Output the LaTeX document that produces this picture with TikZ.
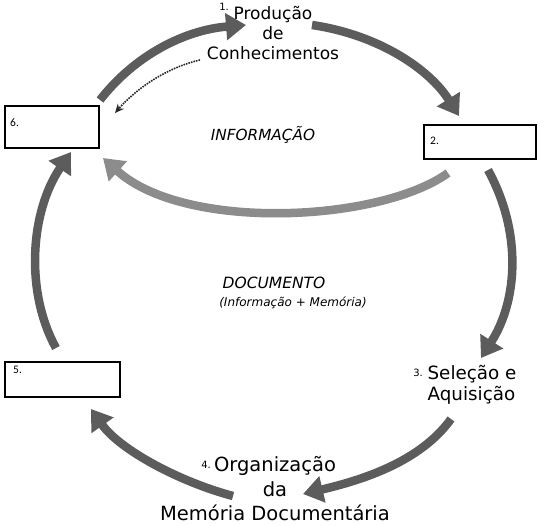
\documentclass[tikz,border=0pt]{standalone}
\usepackage{fontspec}
\setmainfont{DejaVu Sans}
\newfontfamily\boxfont{Carlito}
\usetikzlibrary{arrows.meta}
\definecolor{arrdark}{RGB}{92,92,92}
\definecolor{arrlight}{RGB}{140,140,140}
\tikzset{
  x=1pt, y=-1pt,
  numbox/.style={draw=black, line width=2.6pt, inner sep=0pt},
  boxnum/.style={font=\boxfont\fontsize{11.5}{12}\selectfont, inner sep=0pt, anchor=west},
  bigarrow/.style={line width=8.5pt, draw=arrdark, -{Triangle[width=26pt,length=20pt]}},
  lightarrow/.style={bigarrow, draw=arrlight},
  stage/.style={align=center, inner sep=0pt},
  smallnum/.style={font=\fontsize{10}{11}\selectfont, inner sep=0pt},
  midlabel/.style={align=center, inner sep=0pt, font=\itshape},
}
\begin{document}
\begin{tikzpicture}
\useasboundingbox (0,0) rectangle (545,525);
% boxes
\node[numbox, minimum width=94pt, minimum height=42pt] (b6) at (52,127) {};
\node[numbox, minimum width=112pt, minimum height=34pt] (b2) at (480,142) {};
\node[numbox, minimum width=115pt, minimum height=35pt] (b5) at (62.5,379.5) {};
\node[boxnum] (n6) at (10,123) {6.};
\node[boxnum] (n2) at (430,141) {2.};
\node[boxnum] (n5) at (13,370) {5.};
% stage texts
\node[stage, font=\fontsize{17}{20}\selectfont] (s1) at (273,33) {Produção\\de\\Conhecimentos};
\node[smallnum, anchor=east] (s1n) at (229,7) {1.};
\node[stage, font=\fontsize{18.3}{21}\selectfont, align=left] (s3) at (472,385) {Seleção e\\Aquisição};
\node[smallnum, anchor=east] (s3n) at (423,373) {3.};
\node[stage, font=\fontsize{19.5}{24.5}\selectfont] (s4) at (275,489) {Organização\\da\\Memória Documentária};
\node[smallnum, anchor=east] (s4n) at (211,465) {4.};
\node[midlabel, font=\itshape\fontsize{15.3}{18}\selectfont] (info) at (263,135) {INFORMAÇÃO};
\node[midlabel, font=\itshape\fontsize{15.5}{18}\selectfont] (doc) at (274,283) {DOCUMENTO};
\node[midlabel, font=\itshape\fontsize{12}{14}\selectfont] (docsub) at (293,303) {(Informação + Memória)};
% arrow end points
\coordinate (a1s) at (100,100); \coordinate (a1e) at (246,25);
\coordinate (a2s) at (312,25);  \coordinate (a2e) at (459,116);
\coordinate (dts) at (200,60);  \coordinate (dte) at (115,113);
\coordinate (a4s) at (448,173); \coordinate (a4e) at (103,158);
\coordinate (a5s) at (488,170); \coordinate (a5e) at (481,358);
\coordinate (a6s) at (451,419); \coordinate (a6e) at (303,494);
\coordinate (a7s) at (233,496); \coordinate (a7e) at (91,409);
\coordinate (a8s) at (56,348);  \coordinate (a8e) at (71,152);
% arrows
\draw[bigarrow] (a1s) .. controls (135,55) and (185,30) .. (a1e);
\draw[bigarrow] (a2s) .. controls (380,35) and (430,70) .. (a2e);
\draw[black!85, line width=1.6pt, densely dotted, -{Stealth[length=9pt,width=8pt]}] (dts) .. controls (165,68) and (135,90) .. (dte);
\draw[lightarrow] (a4s) .. controls (380,222) and (185,232) .. (a4e);
\draw[bigarrow] (a5s) .. controls (522,232) and (518,300) .. (a5e);
\draw[bigarrow] (a6s) .. controls (420,462) and (362,480) .. (a6e);
\draw[bigarrow] (a7s) .. controls (180,482) and (120,450) .. (a7e);
\draw[bigarrow] (a8s) .. controls (25,292) and (30,212) .. (a8e);
\end{tikzpicture}
\end{document}
